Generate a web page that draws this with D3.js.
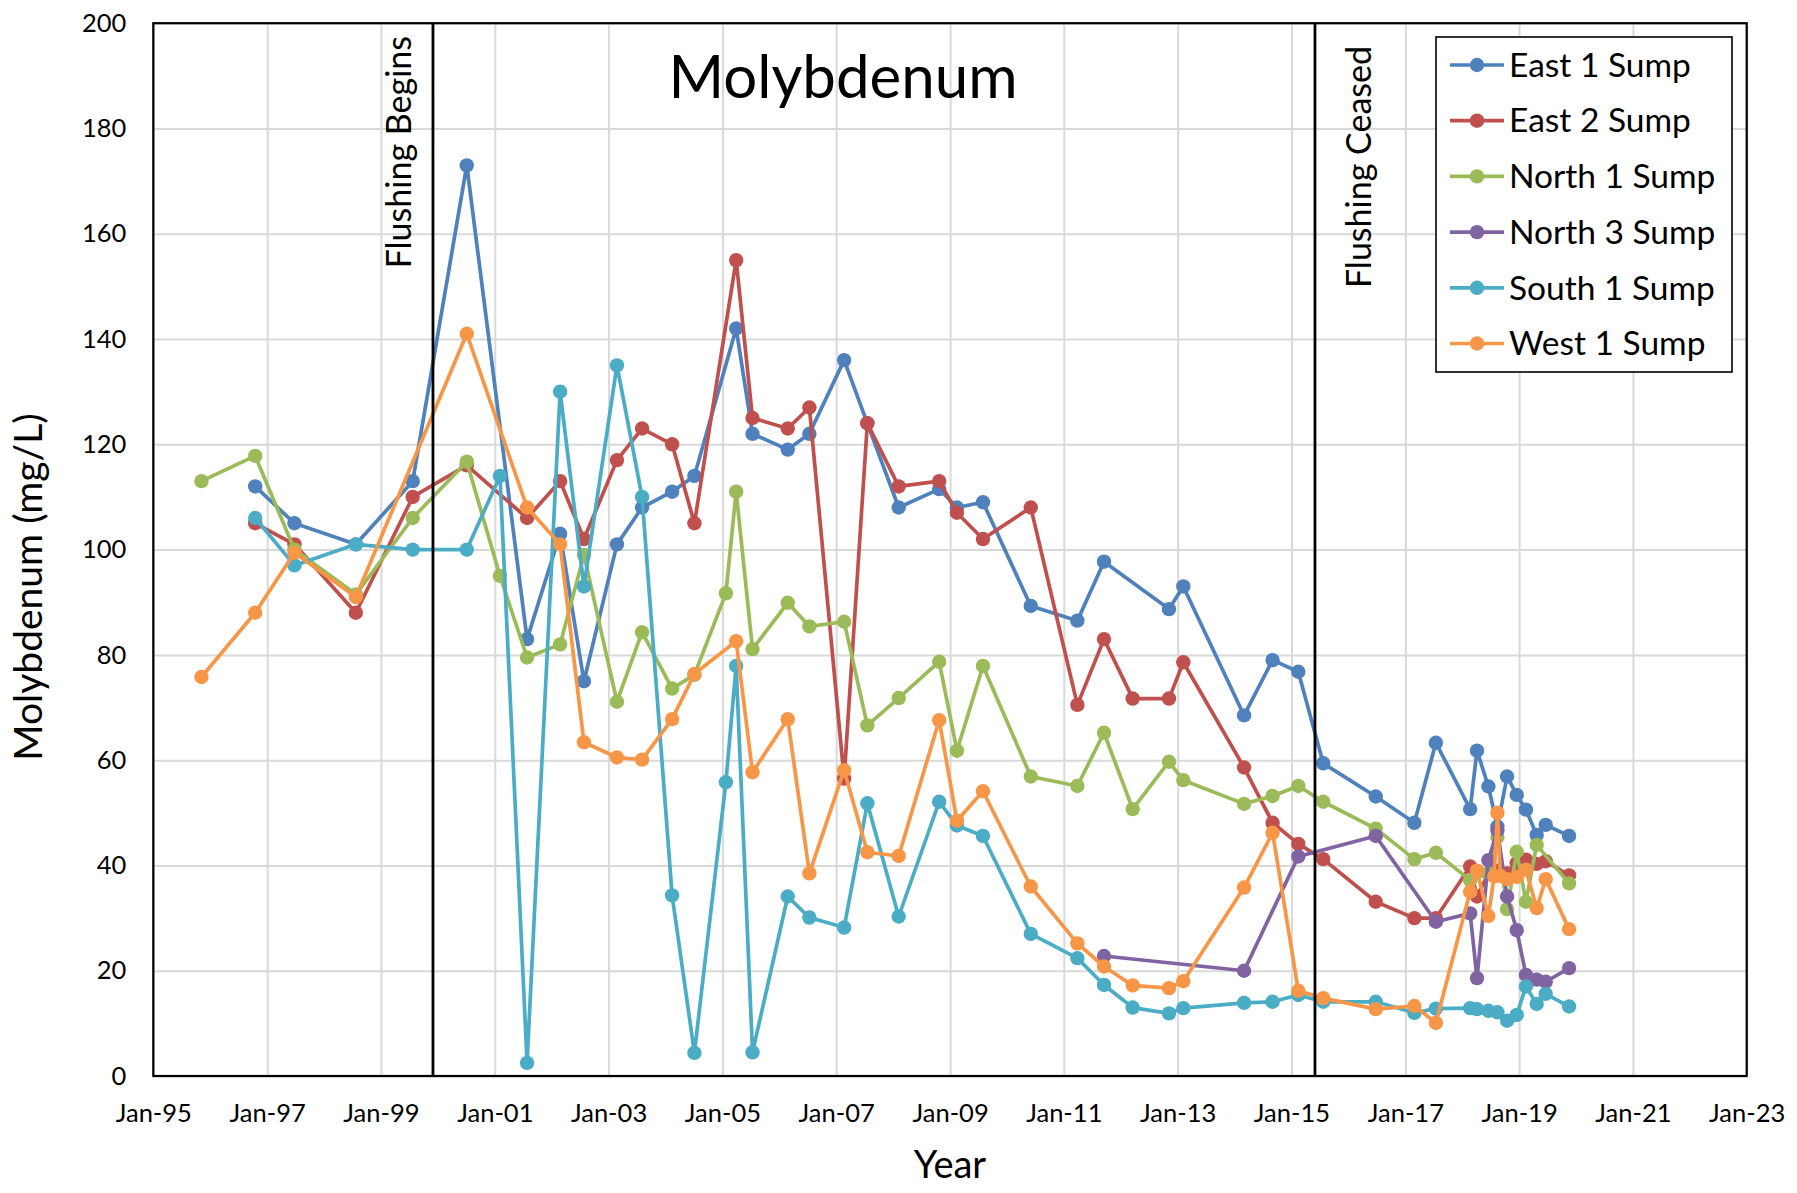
<!DOCTYPE html>
<html lang="en">
<head>
<meta charset="utf-8">
<title>Molybdenum</title>
<script src="https://cdn.jsdelivr.net/npm/d3@7"></script>
<style>
  body { margin: 0; background: #fff; }
  svg { display: block; font-family: Lato, "Open Sans", sans-serif; }
</style>
</head>
<body>
<div id="chart"></div>
<script>
// sump samples: [date, Mo mg/L]
const east1 = [
  ["1996-10-16",112],["1997-06-25",105],["1998-07-24",101],["1999-07-24",113],["2000-07-05",173],
  ["2001-07-27",83],["2002-02-24",103],["2002-07-27",75],["2003-02-24",101],["2003-08-04",108],
  ["2004-02-13",111],["2004-07-05",114],["2005-03-30",142],["2005-07-13",122],["2006-02-24",119],
  ["2006-07-13",122],["2007-02-21",136],["2007-07-20",124],["2008-02-06",108],["2008-10-23",111.5],
  ["2009-02-14",108],["2009-07-31",109],["2010-06-03",89.3],["2011-03-29",86.5],["2011-09-16",97.7],
  ["2012-11-06",88.7],["2013-02-06",93],["2014-03-03",68.5],["2014-09-02",79],["2015-02-14",76.8],
  ["2015-07-24",59.4],["2016-06-25",53.1],["2017-02-28",48.1],["2017-07-16",63.3],["2018-02-21",50.7],
  ["2018-04-06",61.8],["2018-06-18",55],["2018-08-15",47.4],["2018-10-16",56.9],["2018-12-17",53.4],
  ["2019-02-14",50.6],["2019-04-24",45.8],["2019-06-21",47.7],["2019-11-18",45.6]
];
const east2 = [
  ["1996-10-16",105],["1997-06-25",101],["1998-07-24",88],["1999-07-24",110],["2000-07-05",116],
  ["2001-07-27",106],["2002-02-24",113],["2002-07-27",102],["2003-02-24",117],["2003-08-04",123],
  ["2004-02-13",120],["2004-07-05",105],["2005-03-30",155],["2005-07-13",125],["2006-02-24",123],
  ["2006-07-13",127],["2007-02-21",56.5],["2007-07-20",124],["2008-02-06",112],["2008-10-23",113],
  ["2009-02-14",107],["2009-07-31",102],["2010-06-03",108],["2011-03-29",70.5],["2011-09-16",83],
  ["2012-03-18",71.7],["2012-11-06",71.7],["2013-02-06",78.6],["2014-03-03",58.6],["2014-09-02",48.1],
  ["2015-02-14",44.1],["2015-07-24",41.2],["2016-06-25",33.1],["2017-02-28",30],["2017-07-16",30],
  ["2018-02-21",39.8],["2018-04-06",34.1],["2018-06-18",38.5],["2018-08-15",39],["2018-10-16",38.5],
  ["2018-12-17",40.4],["2019-02-14",41.1],["2019-04-24",40.3],["2019-06-21",40.8],["2019-11-18",38.1]
];
const north1 = [
  ["1995-11-06",113],["1996-10-16",117.8],["1997-06-25",100],["1998-07-24",91.5],["1999-07-24",106],
  ["2000-07-05",116.7],["2001-02-03",95],["2001-07-27",79.5],["2002-02-24",82],["2002-07-27",99],
  ["2003-02-24",71.1],["2003-08-04",84.3],["2004-02-13",73.6],["2004-07-05",76.2],["2005-01-23",91.7],
  ["2005-03-30",111],["2005-07-13",81.1],["2006-02-24",89.9],["2006-07-13",85.4],["2007-02-21",86.3],
  ["2007-07-20",66.6],["2008-02-06",71.8],["2008-10-23",78.7],["2009-02-14",61.8],["2009-07-31",77.9],
  ["2010-06-03",56.9],["2011-03-29",55.1],["2011-09-16",65.2],["2012-03-18",50.7],["2012-11-06",59.7],
  ["2013-02-06",56.2],["2014-03-03",51.7],["2014-09-02",53.2],["2015-02-14",55.1],["2015-07-24",52.1],
  ["2016-06-25",47],["2017-02-28",41.2],["2017-07-16",42.4],["2018-02-21",37.2],["2018-06-18",38.5],
  ["2018-08-15",45.4],["2018-10-16",31.7],["2018-12-17",42.6],["2019-02-14",33.1],["2019-04-24",43.9],
  ["2019-11-18",36.6]
];
const north3 = [
  ["2011-09-16",22.8],["2014-03-03",20],["2015-02-14",41.7],["2016-06-25",45.6],["2017-07-16",29.3],
  ["2018-02-21",30.9],["2018-04-06",18.6],["2018-06-18",41],["2018-08-15",46.7],["2018-10-16",34.1],
  ["2018-12-17",27.7],["2019-02-14",19.2],["2019-04-24",18.3],["2019-06-21",17.9],["2019-11-18",20.5]
];
const south1 = [
  ["1996-10-16",106],["1997-06-25",97],["1998-07-24",101],["1999-07-24",100],["2000-07-05",100],
  ["2001-02-03",114],["2001-07-27",2.5],["2002-02-24",130],["2002-07-27",93],["2003-02-24",135],
  ["2003-08-04",110],["2004-02-13",34.3],["2004-07-05",4.4],["2005-01-23",55.8],["2005-03-30",77.9],
  ["2005-07-13",4.5],["2006-02-24",34.1],["2006-07-13",30.1],["2007-02-21",28.2],["2007-07-20",51.8],
  ["2008-02-06",30.3],["2008-10-23",52.1],["2009-02-14",47.6],["2009-07-31",45.6],["2010-06-03",27],
  ["2011-03-29",22.4],["2011-09-16",17.3],["2012-03-18",13],["2012-11-06",11.9],["2013-02-06",12.9],
  ["2014-03-03",13.9],["2014-09-02",14.1],["2015-02-14",15.4],["2015-07-24",14.1],["2016-06-25",14.1],
  ["2017-02-28",12],["2017-07-16",12.8],["2018-02-21",12.9],["2018-04-06",12.7],["2018-06-18",12.4],
  ["2018-08-15",12.1],["2018-10-16",10.5],["2018-12-17",11.6],["2019-02-14",17],["2019-04-24",13.7],
  ["2019-06-21",15.6],["2019-11-18",13.2]
];
const west1 = [
  ["1995-11-06",75.8],["1996-10-16",88],["1997-06-25",99.4],["1998-07-24",91],["2000-07-05",141],
  ["2001-07-27",108],["2002-02-24",101],["2002-07-27",63.4],["2003-02-24",60.5],["2003-08-04",60.1],
  ["2004-02-13",67.8],["2004-07-05",76.4],["2005-03-30",82.6],["2005-07-13",57.7],["2006-02-24",67.8],
  ["2006-07-13",38.5],["2007-02-21",58.1],["2007-07-20",42.5],["2008-02-06",41.8],["2008-10-23",67.6],
  ["2009-02-14",48.5],["2009-07-31",54.1],["2010-06-03",36],["2011-03-29",25.2],["2011-09-16",20.8],
  ["2012-03-18",17.2],["2012-11-06",16.7],["2013-02-06",18],["2014-03-03",35.8],["2014-09-02",46.2],
  ["2015-02-14",16.2],["2015-07-24",14.8],["2016-06-25",12.7],["2017-02-28",13.3],["2017-07-16",10.1],
  ["2018-02-21",35],["2018-04-06",39],["2018-06-18",30.4],["2018-07-25",37.9],["2018-08-15",50],
  ["2018-09-03",38],["2018-10-16",37.4],["2018-12-17",37.8],["2019-02-14",39.2],["2019-04-24",31.9],
  ["2019-06-21",37.4],["2019-11-18",27.9]
];

const seriesNames  = ["East 1 Sump", "East 2 Sump", "North 1 Sump", "North 3 Sump", "South 1 Sump", "West 1 Sump"];
const seriesColors = ["#4F81BD", "#C0504D", "#9BBB59", "#8064A2", "#4BACC6", "#F79646"];
const seriesData   = [east1, east2, north1, north3, south1, west1];

const xTickYears = d3.range(1995, 2024, 2);      // Jan-95 ... Jan-23
const yTicks     = d3.range(0, 201, 20);
const events = [
  { date: "1999-12-01", label: "Flushing Begins", side: "left" },
  { date: "2015-06-01", label: "Flushing Ceased", side: "right" }
];

function draw() {
  const svgWidth = 1797, svgHeight = 1193;
  const plot = { left: 153.3, right: 1746.7, top: 23.2, bottom: 1076 };
  const parse = d3.timeParse("%Y-%m-%d");
  const lineW = 3.7, dotR = 7.2;

  const svg = d3.select("#chart").append("svg")
      .attr("width", svgWidth)
      .attr("height", svgHeight);

  const x = d3.scaleTime()
      .domain([new Date(1995, 0, 1), new Date(2023, 0, 1)])
      .range([plot.left, plot.right]);
  const y = d3.scaleLinear()
      .domain([0, 200])
      .range([plot.bottom, plot.top]);

  const xTicks = xTickYears.map(yr => new Date(yr, 0, 1));

  // gridlines
  svg.append("g")
     .attr("class", "x-grid")
     .attr("transform", `translate(0, ${plot.bottom})`)
     .call(d3.axisBottom(x).tickValues(xTicks).tickSize(-(plot.bottom - plot.top)).tickFormat(""))
     .call(g => g.select(".domain").remove())
     .call(g => g.selectAll("line").attr("stroke", "#d9d9d9").attr("stroke-width", 2));

  svg.append("g")
     .attr("class", "y-grid")
     .attr("transform", `translate(${plot.left}, 0)`)
     .call(d3.axisLeft(y).tickValues(yTicks).tickSize(-(plot.right - plot.left)).tickFormat(""))
     .call(g => g.select(".domain").remove())
     .call(g => g.selectAll("line").attr("stroke", "#d9d9d9").attr("stroke-width", 2));

  // tick labels
  svg.append("g")
     .attr("class", "x-axis")
     .attr("transform", `translate(0, ${plot.bottom})`)
     .call(d3.axisBottom(x).tickValues(xTicks).tickSize(0).tickPadding(28).tickFormat(d3.timeFormat("%b-%y")))
     .call(g => g.select(".domain").remove())
     .attr("font-family", null)
     .attr("font-size", 25.5)
     .call(g => g.selectAll("text").attr("fill", "#000"));

  svg.append("g")
     .attr("class", "y-axis")
     .attr("transform", `translate(${plot.left}, 0)`)
     .call(d3.axisLeft(y).tickValues(yTicks).tickSize(0).tickPadding(27))
     .call(g => g.select(".domain").remove())
     .attr("font-family", null)
     .attr("font-size", 25.5)
     .call(g => g.selectAll("text").attr("fill", "#000"));

  // series
  const line = d3.line()
      .x(d => x(parse(d[0])))
      .y(d => y(d[1]));

  seriesData.forEach((data, i) => {
    const g = svg.append("g").attr("class", "series");
    g.append("path")
     .datum(data)
     .attr("fill", "none")
     .attr("stroke", seriesColors[i])
     .attr("stroke-width", lineW)
     .attr("stroke-linejoin", "round")
     .attr("d", line);
    g.selectAll("circle")
     .data(data)
     .join("circle")
     .attr("cx", d => x(parse(d[0])))
     .attr("cy", d => y(d[1]))
     .attr("r", dotR)
     .attr("fill", seriesColors[i]);
  });

  // flushing markers
  events.forEach(ev => {
    const ex = x(parse(ev.date));
    svg.append("line")
       .attr("x1", ex).attr("x2", ex)
       .attr("y1", plot.top).attr("y2", plot.bottom)
       .attr("stroke", "#000")
       .attr("stroke-width", 2.8);
    const tx = ev.side === "left" ? ex - 22 : ex + 56;
    svg.append("text")
       .attr("transform", `translate(${tx}, ${ev.side === "left" ? 36 : 46}) rotate(-90)`)
       .attr("text-anchor", "end")
       .attr("font-size", 34)
       .text(ev.label);
  });

  // plot frame
  svg.append("rect")
     .attr("x", plot.left).attr("y", plot.top)
     .attr("width", plot.right - plot.left)
     .attr("height", plot.bottom - plot.top)
     .attr("fill", "none")
     .attr("stroke", "#000")
     .attr("stroke-width", 2.2);

  // titles
  svg.append("text")
     .attr("x", 843).attr("y", 98)
     .attr("text-anchor", "middle")
     .attr("font-size", 60)
     .text("Molybdenum");

  svg.append("text")
     .attr("x", (plot.left + plot.right) / 2).attr("y", 1178)
     .attr("text-anchor", "middle")
     .attr("font-size", 38)
     .text("Year");

  svg.append("text")
     .attr("transform", "translate(42, 587) rotate(-90)")
     .attr("text-anchor", "middle")
     .attr("font-size", 39)
     .text("Molybdenum (mg/L)");

  // legend
  const legend = svg.append("g").attr("class", "legend");
  legend.append("rect")
     .attr("x", 1436).attr("y", 37)
     .attr("width", 296).attr("height", 335)
     .attr("fill", "#fff")
     .attr("stroke", "#000")
     .attr("stroke-width", 1.6);

  const item = legend.selectAll("g.item")
     .data(seriesNames)
     .join("g")
     .attr("class", "item")
     .attr("transform", (d, i) => `translate(1450, ${65 + i * 55.7})`);
  item.append("line")
     .attr("x1", 0).attr("x2", 54)
     .attr("stroke", (d, i) => seriesColors[i])
     .attr("stroke-width", lineW);
  item.append("circle")
     .attr("cx", 27).attr("r", dotR)
     .attr("fill", (d, i) => seriesColors[i]);
  item.append("text")
     .attr("x", 59)
     .attr("dy", "0.35em")
     .attr("font-size", 33.5)
     .text(d => d);
}

draw();
</script>
</body>
</html>
